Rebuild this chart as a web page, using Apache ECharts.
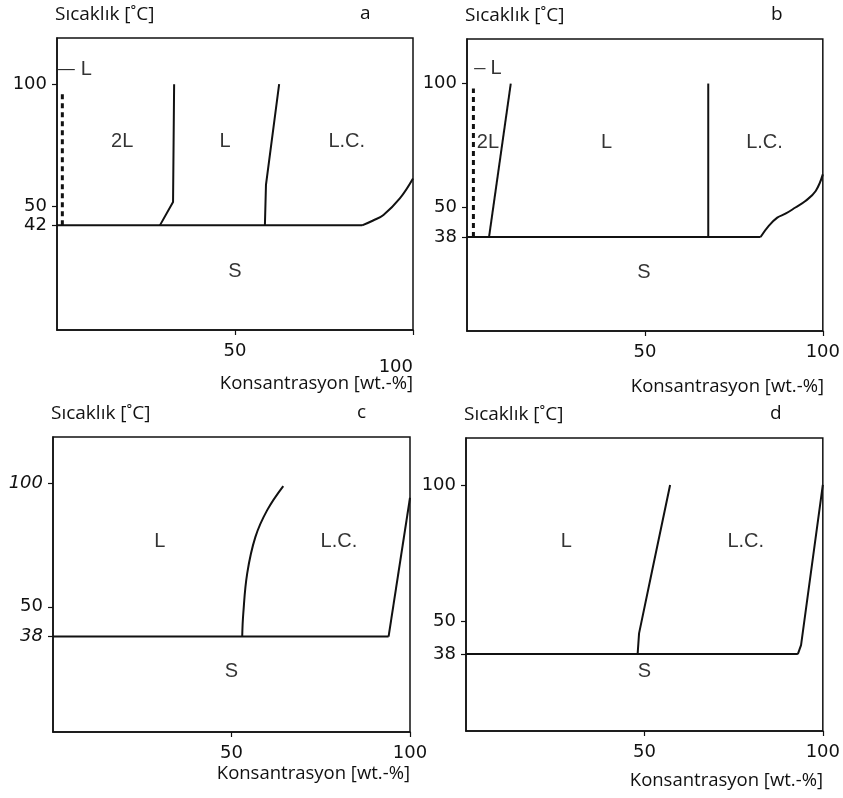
<!DOCTYPE html>
<html>
<head>
<meta charset="utf-8">
<title>Faz diyagramları</title>
<script src="https://cdn.jsdelivr.net/npm/echarts@6/dist/echarts.min.js"></script>
<style>
  html, body { margin: 0; padding: 0; background: #fff; }
  #chart { width: 843px; height: 798px; }
</style>
</head>
<body>
<div id="chart"></div>
<script>
// Shared axis ticks
const xTicks = [50, 100];

// Panel a
const aYTicks = [42, 50, 100];
const aEutectic = [[0, 42], [85.7, 42]];
const aDashed = [[1.5, 42], [1.5, 97.5]];
const aLeader = [[0.3, 106], [5, 106]];
const aBoundary1 = [[28.9, 42], [32.6, 51.6], [32.9, 100]];
const aBoundary2 = [[58.4, 42], [58.7, 58.6], [62.4, 100]];
const aLcCurve = [[85.7, 42], [88.8, 44], [91.7, 46.3], [96.3, 53.1], [100, 61.3]];
const aLabels = [['2L', 18.3, 76.4], ['L', 47.2, 76.4], ['L.C.', 81.4, 76.4], ['S', 50, 23.1], ['L', 8.2, 106]];

// Panel b
const bYTicks = [38, 50, 100];
const bEutectic = [[0, 38], [82.5, 38]];
const bDashed = [[1.8, 38], [1.8, 98]];
const bLeader = [[2, 106], [5.2, 106]];
const bBoundary1 = [[6.2, 38], [12.3, 100]];
const bBoundary2 = [[67.8, 38], [67.8, 100]];
const bLcCurve = [[82.5, 38], [84.8, 42.5], [87.2, 45.8], [89.5, 47.4], [92.3, 49.9], [95.1, 52.5], [98, 56.6], [100, 63.3]];
const bLabels = [['2L', 5.9, 76.1], ['L', 39.2, 76.1], ['L.C.', 83.6, 76.1], ['S', 49.7, 23.7], ['L', 8.2, 106]];

// Panel c
const cYTicks = [38, 50, 100];
const cEutectic = [[0, 38], [94, 38]];
const cBoundary1 = [[53, 38], [53.3, 47.3], [54.4, 63.5], [56.7, 78.2], [60, 89], [64.5, 98.7]];
const cBoundary2 = [[94, 38], [100, 94]];
const cLabels = [['L', 29.9, 76.2], ['L.C.', 80.1, 76.2], ['S', 50, 23.8]];

// Panel d
const dYTicks = [38, 50, 100];
const dEutectic = [[0, 38], [93, 38]];
const dBoundary1 = [[48.1, 38], [48.5, 45.6], [52.1, 68.2], [57.2, 100]];
const dBoundary2 = [[93, 38], [93.9, 41.3], [100, 100]];
const dLabels = [['L', 28.1, 79.2], ['L.C.', 78.4, 79.2], ['S', 50, 31.5]];

// Layout of the four plot boxes, their y ranges and the centre line of the x-axis caption
const panels = [
  { grid: { left: 57, top: 38, width: 356, height: 292 }, ymin: -1, ymax: 119, yTicks: aYTicks, letter: 'a', capY: 383 },
  { grid: { left: 467, top: 39, width: 357, height: 292 }, ymin: 0, ymax: 118, yTicks: bYTicks, letter: 'b', capY: 386 },
  { grid: { left: 53, top: 437, width: 357, height: 295 }, ymin: -0.5, ymax: 118.5, yTicks: cYTicks, letter: 'c', capY: 773 },
  { grid: { left: 466, top: 438, width: 357, height: 293 }, ymin: 9.8, ymax: 117.2, yTicks: dYTicks, letter: 'd', capY: 780 }
];

const INK = '#111';
const numFont = 'DejaVu Sans';
const textFont = 'Open Sans';
const regionFont = 'Liberation Sans';

const grids = panels.map(p => Object.assign({
  show: true, borderColor: INK, borderWidth: 1.5, backgroundColor: 'transparent'
}, p.grid));

const xAxes = panels.map((p, i) => ({
  type: 'value', gridIndex: i, min: 0, max: 100,
  axisLine: { show: true, onZero: false, lineStyle: { color: INK, width: 1.5 } },
  splitLine: { show: false },
  axisTick: { show: true, customValues: xTicks, length: 5, lineStyle: { color: INK, width: 1.2 } },
  axisLabel: {
    show: true, customValues: xTicks, margin: 12,
    fontFamily: numFont, fontSize: 18, color: INK,
    alignMaxLabel: i === 0 ? 'right' : 'center',
    formatter: v => (i === 0 && v === 100) ? '{lo|100}' : String(v),
    rich: { lo: { fontFamily: numFont, fontSize: 18, color: INK, padding: [16, 0, 0, 0] } }
  }
}));

const yAxes = panels.map((p, i) => ({
  type: 'value', gridIndex: i, min: p.ymin, max: p.ymax,
  axisLine: { show: true, onZero: false, lineStyle: { color: INK, width: 1.5 } },
  splitLine: { show: false },
  axisTick: { show: true, customValues: p.yTicks, length: 5, lineStyle: { color: INK, width: 1.2 } },
  axisLabel: {
    show: true, customValues: p.yTicks, margin: 10,
    fontFamily: numFont, fontSize: 18, color: INK,
    formatter: v => (i === 2 && v !== 50) ? '{it|' + v + '}' : String(v),
    rich: { it: { fontFamily: numFont, fontSize: 18, color: INK, fontStyle: 'italic' } }
  }
}));

// Text around each plot box
const titles = [];
panels.forEach(p => {
  const g = p.grid;
  titles.push({
    text: 'Sıcaklık [˚C]', left: g.left - 2, top: g.top - 33, padding: 0,
    textStyle: { fontFamily: textFont, fontSize: 19, fontWeight: 'normal', color: INK }
  });
  titles.push({
    text: p.letter, left: g.left + g.width - 53, top: g.top - 34, padding: 0,
    textStyle: { fontFamily: textFont, fontSize: 19, fontWeight: 'normal', color: INK }
  });
  titles.push({
    text: 'Konsantrasyon [wt.-%]', right: 843 - (g.left + g.width), top: p.capY - 9, padding: 0,
    textStyle: { fontFamily: textFont, fontSize: 18.5, fontWeight: 'normal', color: INK }
  });
});

function curve(i, data, opts) {
  opts = opts || {};
  return {
    type: 'line', xAxisIndex: i, yAxisIndex: i, data: data,
    showSymbol: false, symbol: 'none', smooth: opts.smooth || false,
    clip: false, silent: true, animation: false,
    lineStyle: { color: INK, width: opts.width || 2, type: opts.type || 'solid' }
  };
}

function labels(i, items) {
  return {
    type: 'scatter', xAxisIndex: i, yAxisIndex: i, symbolSize: 0, silent: true, animation: false,
    data: items.map(t => ({ value: [t[1], t[2]], name: t[0] })),
    label: {
      show: true, position: 'inside', formatter: d => d.name,
      fontFamily: regionFont, fontSize: 20, color: '#000'
    }
  };
}

const series = [
  // a
  curve(0, aEutectic), curve(0, aDashed, { type: [5, 4], width: 3 }), curve(0, aLeader, { width: 1 }),
  curve(0, aBoundary1), curve(0, aBoundary2), curve(0, aLcCurve, { smooth: 0.4 }), labels(0, aLabels),
  // b
  curve(1, bEutectic), curve(1, bDashed, { type: [5, 4], width: 3 }), curve(1, bLeader, { width: 1 }),
  curve(1, bBoundary1), curve(1, bBoundary2), curve(1, bLcCurve, { smooth: 0.4 }), labels(1, bLabels),
  // c
  curve(2, cEutectic), curve(2, cBoundary1, { smooth: 0.4 }), curve(2, cBoundary2), labels(2, cLabels),
  // d
  curve(3, dEutectic), curve(3, dBoundary1), curve(3, dBoundary2), labels(3, dLabels)
];

const chart = echarts.init(document.getElementById('chart'), null, { renderer: 'canvas' });
chart.setOption({
  backgroundColor: '#fff',
  animation: false,
  title: titles,
  grid: grids,
  xAxis: xAxes,
  yAxis: yAxes,
  series: series
});
</script>
</body>
</html>
